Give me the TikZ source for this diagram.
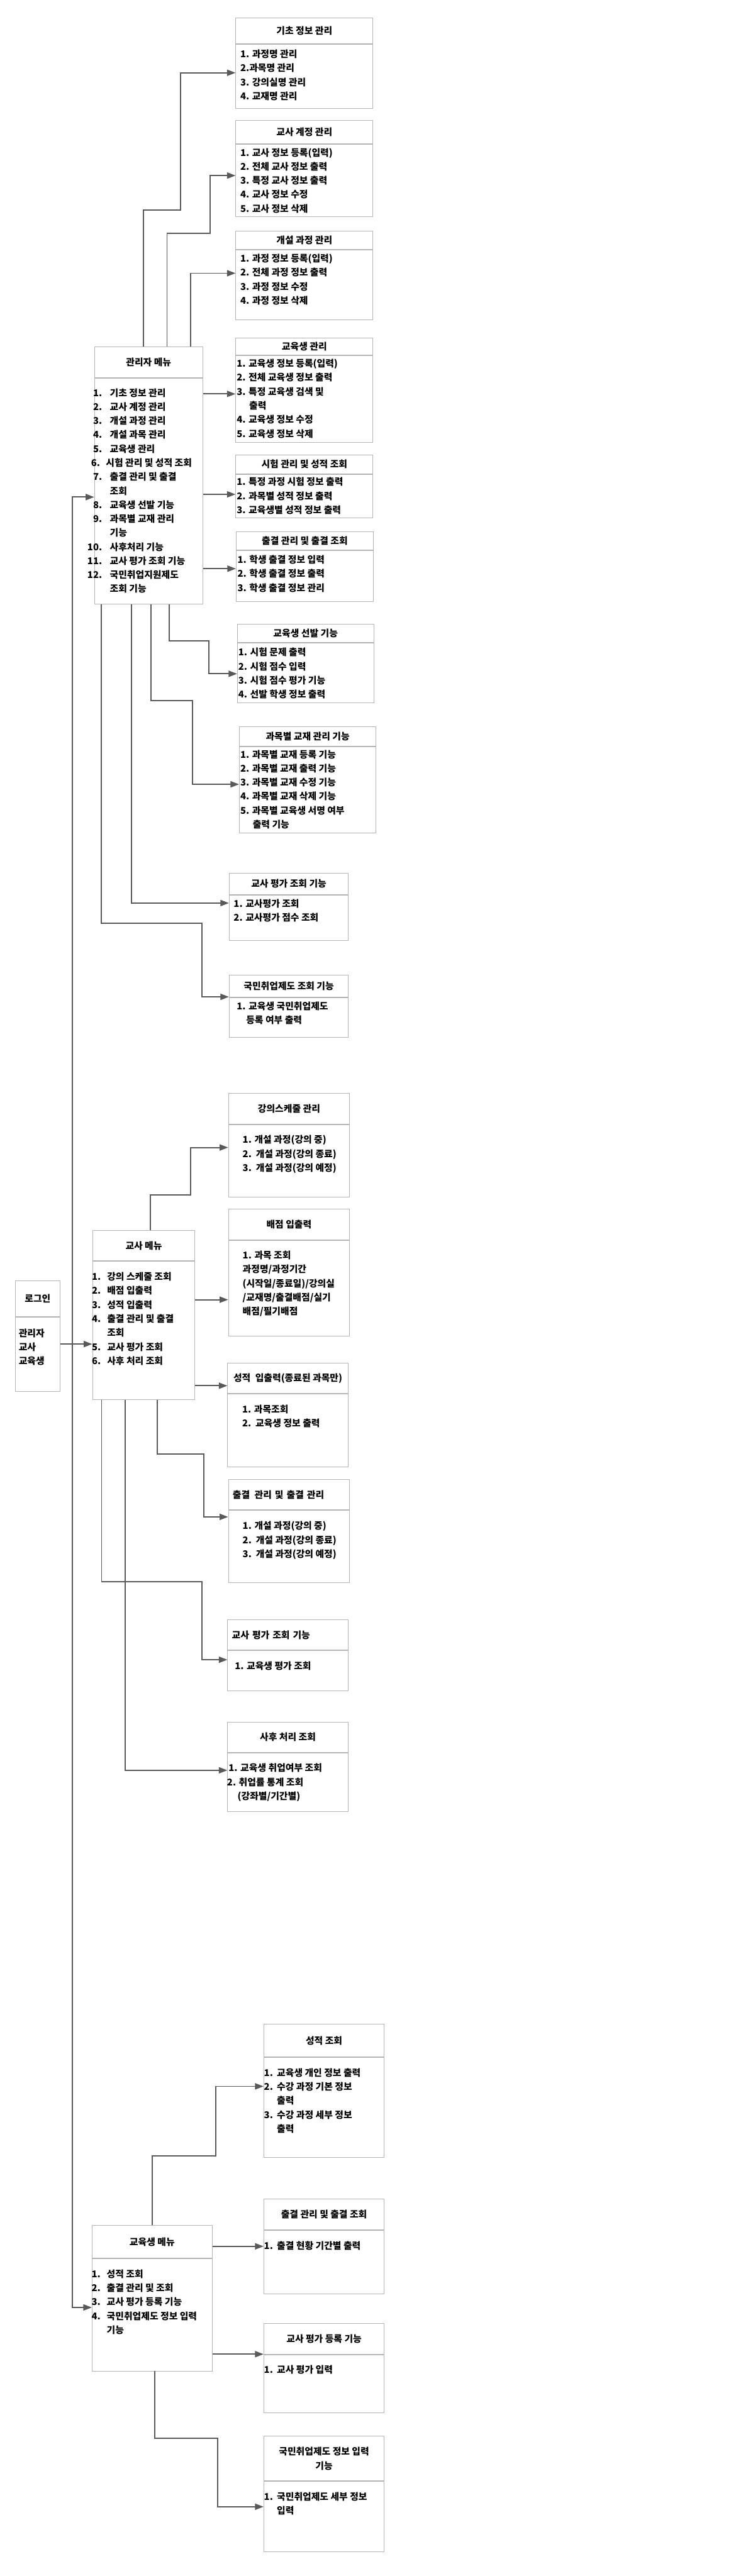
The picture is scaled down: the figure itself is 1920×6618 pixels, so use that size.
\documentclass[tikz,border=0pt]{standalone}
\usepackage{fontspec}
\setmainfont{Noto Sans CJK KR}
\usetikzlibrary{arrows.meta,positioning}
\definecolor{connline}{RGB}{89,89,89}
\definecolor{boxline}{RGB}{180,180,180}
\newcommand{\inum}[2][22pt]{\makebox[#1][r]{#2}}

\begin{document}
\begin{tikzpicture}[
x=1pt, y=-1pt,
font=\fontsize{24}{36}\selectfont\bfseries,
hd/.style={draw=boxline, line width=1.5pt, anchor=north west, align=center, inner sep=0pt},
bd/.style={draw=boxline, line width=1.5pt, inner sep=0pt},
lst/.style={align=left, inner sep=0pt},
arr/.style={draw=connline, line width=3pt, -{Triangle[length=22pt,width=16pt]}}
]
\useasboundingbox (0,0) rectangle (1920,6618);

% login
\node[hd, minimum width=116pt, minimum height=92pt] (login-t) at (38,3289) {로그인};
\node[bd, below=0pt of login-t, minimum width=116pt, minimum height=191pt] (login) {};
\node[lst, below right=31pt and 10pt of login.north west] (login-l) {관리자\\교사\\교육생};

% admin menu
\node[hd, minimum width=278pt, minimum height=79pt] (adm-t) at (242,890) {관리자 메뉴};
\node[bd, below=0pt of adm-t, minimum width=278pt, minimum height=581pt] (adm) {};
\node[lst, below right=27pt and -6pt of adm.north west] (adm-l) {\inum[26pt]{1.}\hspace{20pt}기초 정보 관리\\
\inum[26pt]{2.}\hspace{20pt}교사 계정 관리\\
\inum[26pt]{3.}\hspace{20pt}개설 과정 관리\\
\inum[26pt]{4.}\hspace{20pt}개설 과목 관리\\
\inum[26pt]{5.}\hspace{20pt}교육생 관리\\
\inum[21pt]{6.}\hspace{15pt}시험 관리 및 성적 조회\\
\inum[26pt]{7.}\hspace{20pt}출결 관리 및 출결\\
\hspace*{46pt}조회\\
\inum[26pt]{8.}\hspace{20pt}교육생 선발 기능\\
\inum[26pt]{9.}\hspace{20pt}과목별 교재 관리\\
\hspace*{46pt}기능\\
\inum[26pt]{10.}\hspace{20pt}사후처리 기능\\
\inum[26pt]{11.}\hspace{20pt}교사 평가 조회 기능\\
\inum[26pt]{12.}\hspace{20pt}국민취업지원제도\\
\hspace*{46pt}조회 기능};

% admin sub menus
\node[hd, minimum width=352pt, minimum height=66pt] (kicho-t) at (605,46) {기초 정보 관리};
\node[bd, below=0pt of kicho-t, minimum width=352pt, minimum height=164pt] (kicho) {};
\node[lst, below right=14pt and 12pt of kicho.north west] (kicho-l) {1. 과정명 관리\\2.과목명 관리\\3. 강의실명 관리\\4. 교재명 관리};

\node[hd, minimum width=352pt, minimum height=60pt] (acct-t) at (605,309) {교사 계정 관리};
\node[bd, below=0pt of acct-t, minimum width=352pt, minimum height=186pt] (acct) {};
\node[lst, below right=10pt and 12pt of acct.north west] (acct-l) {1. 교사 정보 등록(입력)\\2. 전체 교사 정보 출력\\3. 특정 교사 정보 출력\\4. 교사 정보 수정\\5. 교사 정보 삭제};

\node[hd, minimum width=352pt, minimum height=47pt] (course-t) at (605,593) {개설 과정 관리};
\node[bd, below=0pt of course-t, minimum width=352pt, minimum height=179pt] (course) {};
\node[lst, below right=11pt and 12pt of course.north west] (course-l) {1. 과정 정보 등록(입력)\\2. 전체 과정 정보 출력\\3. 과정 정보 수정\\4. 과정 정보 삭제};

\node[hd, minimum width=352pt, minimum height=43pt] (trainee-t) at (605,868) {교육생 관리};
\node[bd, below=0pt of trainee-t, minimum width=352pt, minimum height=223pt] (trainee) {};
\node[lst, below right=10pt and 3pt of trainee.north west] (trainee-l) {1. 교육생 정보 등록(입력)\\2. 전체 교육생 정보 출력\\3. 특정 교육생 검색 및\\\hspace*{32pt}출력\\4. 교육생 정보 수정\\5. 교육생 정보 삭제};

\node[hd, minimum width=352pt, minimum height=48pt] (exam-t) at (605,1168) {시험 관리 및 성적 조회};
\node[bd, below=0pt of exam-t, minimum width=352pt, minimum height=113pt] (exam) {};
\node[lst, below right=9pt and 3pt of exam.north west] (exam-l) {1. 특정 과정 시험 정보 출력\\2. 과목별 성적 정보 출력\\3. 교육생별 성적 정보 출력};

\node[hd, minimum width=352pt, minimum height=47pt] (attend-t) at (606,1365) {출결 관리 및 출결 조회};
\node[bd, below=0pt of attend-t, minimum width=352pt, minimum height=131pt] (attend) {};
\node[lst, below right=13pt and 4pt of attend.north west] (attend-l) {1. 학생 출결 정보 입력\\2. 학생 출결 정보 출력\\3. 학생 출결 정보 관리};

\node[hd, minimum width=350pt, minimum height=48pt] (select-t) at (609,1602) {교육생 선발 기능};
\node[bd, below=0pt of select-t, minimum width=350pt, minimum height=154pt] (select) {};
\node[lst, below right=13pt and 3pt of select.north west] (select-l) {1. 시험 문제 출력\\2. 시험 점수 입력\\3. 시험 점수 평가 기능\\4. 선발 학생 정보 출력};

\node[hd, minimum width=351pt, minimum height=50pt] (book-t) at (614,1866) {과목별 교재 관리 기능};
\node[bd, below=0pt of book-t, minimum width=351pt, minimum height=221pt] (book) {};
\node[lst, below right=9pt and 3pt of book.north west] (book-l) {1. 과목별 교재 등록 기능\\2. 과목별 교재 출력 기능\\3. 과목별 교재 수정 기능\\4. 과목별 교재 삭제 기능\\5. 과목별 교육생 서명 여부\\\hspace*{32pt}출력 기능};

\node[hd, minimum width=306pt, minimum height=56pt] (teval-t) at (588,2242) {교사 평가 조회 기능};
\node[bd, below=0pt of teval-t, minimum width=306pt, minimum height=116pt] (teval) {};
\node[lst, below right=11pt and 12pt of teval.north west] (teval-l) {1. 교사평가 조회\\2. 교사평가 점수 조회};

\node[hd, minimum width=306pt, minimum height=56pt] (jobq-t) at (588,2505) {국민취업제도 조회 기능};
\node[bd, below=0pt of jobq-t, minimum width=306pt, minimum height=101pt] (jobq) {};
\node[lst, below right=11pt and 20pt of jobq.north west] (jobq-l) {1. 교육생 국민취업제도\\\hspace*{24pt}등록 여부 출력};

% teacher menu
\node[hd, minimum width=263pt, minimum height=77pt] (tmenu-t) at (237,3161) {교사 메뉴};
\node[bd, below=0pt of tmenu-t, minimum width=263pt, minimum height=355pt] (tmenu) {};
\node[lst, below right=29pt and 0pt of tmenu.north west] (tmenu-l) {\inum{1.}\hspace{16pt}강의 스케줄 조회\\
\inum{2.}\hspace{16pt}배점 입출력\\
\inum{3.}\hspace{16pt}성적 입출력\\
\inum{4.}\hspace{16pt}출결 관리 및 출결\\
\hspace*{38pt}조회\\
\inum{5.}\hspace{16pt}교사 평가 조회\\
\inum{6.}\hspace{16pt}사후 처리 조회};

% teacher sub menus
\node[hd, minimum width=311pt, minimum height=79pt] (sched-t) at (586,2808) {강의스케줄 관리};
\node[bd, below=0pt of sched-t, minimum width=311pt, minimum height=186pt] (sched) {};
\node[lst, below right=28pt and 37pt of sched.north west] (sched-l) {1. 개설 과정(강의 중)\\2.\hspace{11pt}개설 과정(강의 종료)\\3.\hspace{11pt}개설 과정(강의 예정)};

\node[hd, minimum width=311pt, minimum height=79pt] (plan-t) at (586,3105) {배점 입출력};
\node[bd, below=0pt of plan-t, minimum width=311pt, minimum height=247pt] (plan) {};
\node[lst, below right=28pt and 37pt of plan.north west] (plan-l) {1. 과목 조회\\과정명/과정기간\\(시작일/종료일)/강의실\\/교재명/출결배점/실기\\배점/필기배점};

\node[hd, minimum width=309pt, minimum height=78pt] (grade-t) at (584,3501) {성적\hspace{12pt}입출력(종료된 과목만)};
\node[bd, below=0pt of grade-t, minimum width=309pt, minimum height=187pt] (grade) {};
\node[lst, below right=29pt and 38pt of grade.north west] (grade-l) {1. 과목조회\\2.\hspace{11pt}교육생 정보 출력};

\node[hd, inner xsep=11pt, text width=289pt, align=left, minimum height=78pt] (tattend-t) at (586,3800) {출결\hspace{12pt}관리 및 출결 관리};
\node[bd, below=0pt of tattend-t, minimum width=311pt, minimum height=185pt] (tattend) {};
\node[lst, below right=29pt and 37pt of tattend.north west] (tattend-l) {1. 개설 과정(강의 중)\\2.\hspace{11pt}개설 과정(강의 종료)\\3.\hspace{11pt}개설 과정(강의 예정)};

\node[hd, inner xsep=11pt, text width=287pt, align=left, minimum height=77pt] (tteval-t) at (584,4161) {교사 평가 조회 기능};
\node[bd, below=0pt of tteval-t, minimum width=309pt, minimum height=104pt] (tteval) {};
\node[lst, below right=29pt and 19pt of tteval.north west] (tteval-l) {1. 교육생 평가 조회};

\node[hd, minimum width=309pt, minimum height=77pt] (after-t) at (584,4424) {사후 처리 조회};
\node[bd, below=0pt of after-t, minimum width=309pt, minimum height=150pt] (after) {};
\node[lst, below right=28pt and -1pt of after.north west] (after-l) {\hspace*{4pt}1. 교육생 취업여부 조회\\2. 취업률 통계 조회\\\hspace*{27pt}(강좌별/기간별)};

% student menu
\node[hd, minimum width=308pt, minimum height=84pt] (smenu-t) at (236,5717) {교육생 메뉴};
\node[bd, below=0pt of smenu-t, minimum width=308pt, minimum height=288pt] (smenu) {};
\node[lst, below right=28pt and 0pt of smenu.north west] (smenu-l) {\inum{1.}\hspace{16pt}성적 조회\\
\inum{2.}\hspace{16pt}출결 관리 및 조회\\
\inum{3.}\hspace{16pt}교사 평가 등록 기능\\
\inum{4.}\hspace{16pt}국민취업제도 정보 입력\\
\hspace*{38pt}기능};

% student sub menus
\node[hd, minimum width=309pt, minimum height=85pt] (sgrade-t) at (677,5199) {성적 조회};
\node[bd, below=0pt of sgrade-t, minimum width=309pt, minimum height=257pt] (sgrade) {};
\node[lst, below right=28pt and 4pt of sgrade.north west] (sgrade-l) {\inum[20pt]{1.}\hspace{10pt}교육생 개인 정보 출력\\
\inum[20pt]{2.}\hspace{10pt}수강 과정 기본 정보\\
\hspace*{30pt}출력\\
\inum[20pt]{3.}\hspace{10pt}수강 과정 세부 정보\\
\hspace*{30pt}출력};

\node[hd, minimum width=309pt, minimum height=79pt] (sattend-t) at (677,5649) {출결 관리 및 출결 조회};
\node[bd, below=0pt of sattend-t, minimum width=309pt, minimum height=163pt] (sattend) {};
\node[lst, below right=29pt and 4pt of sattend.north west] (sattend-l) {\inum[20pt]{1.}\hspace{10pt}출결 현황 기간별 출력};

\node[hd, minimum width=309pt, minimum height=79pt] (sevalreg-t) at (677,5969) {교사 평가 등록 기능};
\node[bd, below=0pt of sevalreg-t, minimum width=309pt, minimum height=149pt] (sevalreg) {};
\node[lst, below right=27pt and 4pt of sevalreg.north west] (sevalreg-l) {\inum[20pt]{1.}\hspace{10pt}교사 평가 입력};

\node[hd, minimum width=309pt, minimum height=115pt] (sjob-t) at (677,6258) {국민취업제도 정보 입력\\기능};
\node[bd, below=0pt of sjob-t, minimum width=309pt, minimum height=181pt] (sjob) {};
\node[lst, below right=28pt and 4pt of sjob.north west] (sjob-l) {\inum[20pt]{1.}\hspace{10pt}국민취업제도 세부 정보\\\hspace*{30pt}입력};

% login to menus
\coordinate (hub) at (186,3453);
\draw[arr] (login.east |- hub) -- (tmenu.west |- hub);
\draw[arr] (hub) |- (adm.west |- 0,1277);
\draw[arr] (hub) |- (smenu.west |- 0,5928);

% admin links
\draw[arr] (adm-t.north -| 368,0) -- (368,540) -- (464,540) -- (464,187) -- (kicho.west |- 0,187);
\draw[arr] (adm-t.north -| 429,0) -- (429,600) -- (540,600) -- (540,451) -- (acct.west |- 0,451);
\draw[arr] (adm-t.north -| 489,0) -- (489,702) -- (course.west |- 0,702);
\draw[arr] (adm.east |- 0,1012) -- (trainee.west |- 0,1012);
\draw[arr] (adm.east |- 0,1270) -- (exam.west |- 0,1270);
\draw[arr] (adm.east |- 0,1461) -- (attend.west |- 0,1461);
\draw[arr] (adm.south -| 435,0) -- (435,1646) -- (536,1646) -- (536,1731) -- (select.west |- 0,1731);
\draw[arr] (adm.south -| 388,0) -- (388,1800) -- (494,1800) -- (494,2015) -- (book.west |- 0,2015);
\draw[arr] (adm.south -| 337,0) -- (337,2320) -- (teval.west |- 0,2320);
\draw[arr] (adm.south -| 260,0) -- (260,2372) -- (519,2372) -- (519,2561) -- (jobq.west |- 0,2561);

% teacher links
\draw[arr] (tmenu-t.north -| 386,0) -- (386,3070) -- (490,3070) -- (490,2948) -- (sched.west |- 0,2948);
\draw[arr] (tmenu.east |- 0,3339) -- (plan.west |- 0,3339);
\draw[arr] (tmenu.east |- 0,3560) -- (grade.west |- 0,3560);
\draw[arr] (tmenu.south -| 404,0) -- (404,3735) -- (523,3735) -- (523,3897) -- (tattend.west |- 0,3897);
\draw[arr] (tmenu.south -| 261,0) -- (261,4064) -- (519,4064) -- (519,4264) -- (tteval.west |- 0,4264);
\draw[arr] (tmenu.south -| 322,0) -- (322,4548) -- (after.west |- 0,4548);

% student links
\draw[arr] (smenu-t.north -| 391,0) -- (391,5539) -- (554,5539) -- (554,5360) -- (sgrade.west |- 0,5360);
\draw[arr] (smenu-t.east |- 0,5771) -- (sattend.west |- 0,5771);
\draw[arr] (smenu.east |- 0,6048) -- (sevalreg.west |- 0,6048);
\draw[arr] (smenu.south -| 397,0) -- (397,6264) -- (559,6264) -- (559,6440) -- (sjob.west |- 0,6440);
\end{tikzpicture}
\end{document}
